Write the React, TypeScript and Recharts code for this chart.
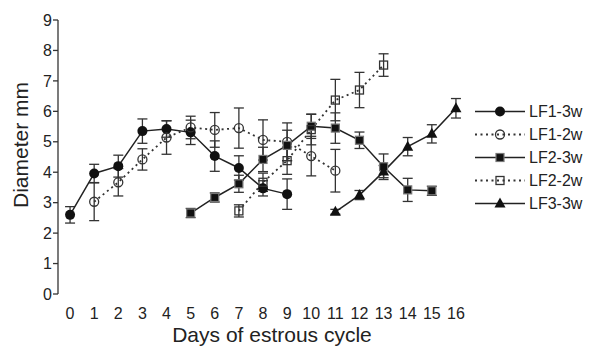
import React from 'react';
import { LineChart, Line, XAxis, YAxis, ErrorBar, Legend } from 'recharts';

// days 0..16 of the cycle
const days = [0, 1, 2, 3, 4, 5, 6, 7, 8, 9, 10, 11, 12, 13, 14, 15, 16];

// follicle diameters (mm), null where the follicle was not tracked
const lf13 = [2.6, 3.96, 4.2, 5.35, 5.42, 5.31, 4.53, 4.14, 3.47, 3.28, null, null, null, null, null, null, null];
const lf13Err = [0.27, 0.3, 0.36, 0.4, 0.27, 0.4, 0.5, 0.4, 0.25, 0.5, null, null, null, null, null, null, null];

const lf12 = [null, 3.03, 3.67, 4.42, 5.14, 5.47, 5.39, 5.45, 5.06, 5.0, 4.53, 4.05, null, null, null, null, null];
const lf12Err = [null, 0.62, 0.45, 0.35, 0.55, 0.37, 0.57, 0.66, 0.66, 0.62, 0.65, 0.7, null, null, null, null, null];

const lf23 = [null, null, null, null, null, 2.66, 3.17, 3.62, 4.42, 4.88, 5.51, 5.45, 5.05, 4.18, 3.42, 3.39, null];
const lf23Err = [null, null, null, null, null, 0.15, 0.15, 0.28, 0.4, 0.5, 0.4, 0.5, 0.27, 0.42, 0.38, 0.15, null];

const lf22 = [null, null, null, null, null, null, null, 2.73, 3.67, 4.38, 5.4, 6.37, 6.7, 7.52, null, null, null];
const lf22Err = [null, null, null, null, null, null, null, 0.2, 0.3, 0.45, 0.5, 0.68, 0.58, 0.37, null, null, null];

const lf33 = [null, null, null, null, null, null, null, null, null, null, null, 2.7, 3.25, 4.02, 4.84, 5.26, 6.1];
const lf33Err = [null, null, null, null, null, null, null, null, null, null, null, 0.08, 0.15, 0.2, 0.3, 0.3, 0.32];

const yTicks = [0, 1, 2, 3, 4, 5, 6, 7, 8, 9];
const xTickMarks = [-0.5, 0.5, 1.5, 2.5, 3.5, 4.5, 5.5, 6.5, 7.5, 8.5, 9.5, 10.5, 11.5, 12.5, 13.5, 14.5, 15.5, 16.5];

const font = '"Liberation Sans", Arial, Helvetica, sans-serif';
const ink = '#222';

type Marker = 'circle' | 'openCircle' | 'square' | 'openSquare' | 'triangle';

const series = [
  { key: 'lf13', name: 'LF1-3w', values: lf13, errors: lf13Err, dotted: false, marker: 'circle' as Marker },
  { key: 'lf12', name: 'LF1-2w', values: lf12, errors: lf12Err, dotted: true, marker: 'openCircle' as Marker },
  { key: 'lf23', name: 'LF2-3w', values: lf23, errors: lf23Err, dotted: false, marker: 'square' as Marker },
  { key: 'lf22', name: 'LF2-2w', values: lf22, errors: lf22Err, dotted: true, marker: 'openSquare' as Marker },
  { key: 'lf33', name: 'LF3-3w', values: lf33, errors: lf33Err, dotted: false, marker: 'triangle' as Marker },
];

const data = days.map((d, i) => {
  const row: Record<string, number | null> = { day: d };
  series.forEach((s) => {
    row[s.key] = s.values[i];
    row[s.key + 'Err'] = s.errors[i];
  });
  return row;
});

const drawMarker = (m: Marker, cx: number, cy: number, key?: string) => {
  switch (m) {
    case 'circle':
      return <circle key={key} cx={cx} cy={cy} r={5} fill="#111" />;
    case 'openCircle':
      return <circle key={key} cx={cx} cy={cy} r={4.5} fill="none" stroke="#333" strokeWidth={1.3} />;
    case 'square':
      return <rect key={key} x={cx - 4} y={cy - 4} width={8} height={8} fill="#111" stroke="#777" strokeWidth={1.2} />;
    case 'openSquare':
      return <rect key={key} x={cx - 4} y={cy - 4} width={8} height={8} fill="none" stroke="#333" strokeWidth={1.3} />;
    default:
      return <path key={key} d={`M${cx},${cy - 6} L${cx + 5.5},${cy + 4} L${cx - 5.5},${cy + 4} Z`} fill="#111" />;
  }
};

const dotFor = (m: Marker) => (props: any) => {
  const { cx, cy, index } = props;
  if (cx == null || cy == null || Number.isNaN(cy)) return <g key={`e-${index}`} />;
  return drawMarker(m, cx, cy, `d-${index}`);
};

const LegendBox = () => (
  <div style={{ width: 120, fontFamily: font, fontSize: 16, color: ink }}>
    {series.map((s) => (
      <div key={s.key} style={{ display: 'flex', alignItems: 'center', height: 23 }}>
        <svg width={52} height={23} style={{ display: 'block' }}>
          <line
            x1={0}
            y1={11.5}
            x2={50}
            y2={11.5}
            stroke={s.dotted ? '#333' : ink}
            strokeWidth={s.dotted ? 1.8 : 1.5}
            strokeDasharray={s.dotted ? '2 3.5' : undefined}
          />
          {drawMarker(s.marker, 25, 11.5)}
        </svg>
        <span style={{ marginLeft: 2, lineHeight: '23px' }}>{s.name}</span>
      </div>
    ))}
  </div>
);

export default function App() {
  return (
    <div style={{ position: 'absolute', left: 0, top: 0 }}>
      <LineChart width={594} height={348} data={data} margin={{ top: 20, right: 6, bottom: 24, left: 0 }}>
        <XAxis
          xAxisId="marks"
          dataKey="day"
          type="number"
          domain={[-0.5, 16.5]}
          ticks={xTickMarks}
          tick={false}
          tickSize={4}
          height={0}
          stroke="#333"
          strokeWidth={1.3}
        />
        <XAxis
          xAxisId="days"
          dataKey="day"
          type="number"
          domain={[-0.5, 16.5]}
          ticks={days}
          interval={0}
          axisLine={false}
          tickLine={false}
          tickSize={4}
          tickMargin={10}
          height={30}
          tick={{ fill: ink, fontSize: 16, fontFamily: font }}
          label={{
            content: () => (
              <text x={272} y={342} textAnchor="middle" fill={ink} fontSize={21} fontFamily={font}>
                Days of estrous cycle
              </text>
            ),
          }}
        />
        <YAxis
          type="number"
          domain={[0, 9]}
          ticks={yTicks}
          interval={0}
          width={58}
          tickSize={5}
          tickMargin={1}
          stroke="#333"
          strokeWidth={1.3}
          tick={{ fill: ink, fontSize: 16, fontFamily: font }}
          label={{
            content: () => (
              <text transform="translate(28,145) rotate(-90)" textAnchor="middle" fill={ink} fontSize={21} fontFamily={font}>
                Diameter mm
              </text>
            ),
          }}
        />
        <Legend
          layout="vertical"
          align="right"
          verticalAlign="middle"
          content={() => <LegendBox />}
          wrapperStyle={{ left: 475, top: 100, right: 'auto' }}
        />
        {series.map((s) => (
          <Line
            key={s.key}
            xAxisId="days"
            dataKey={s.key}
            name={s.name}
            stroke={s.dotted ? '#333' : ink}
            strokeWidth={s.dotted ? 1.8 : 1.5}
            strokeDasharray={s.dotted ? '2 3.5' : undefined}
            dot={dotFor(s.marker)}
            activeDot={false}
            isAnimationActive={false}
          >
            <ErrorBar dataKey={s.key + 'Err'} width={5} stroke="#333" strokeWidth={1.3} direction="y" />
          </Line>
        ))}
      </LineChart>
    </div>
  );
}
